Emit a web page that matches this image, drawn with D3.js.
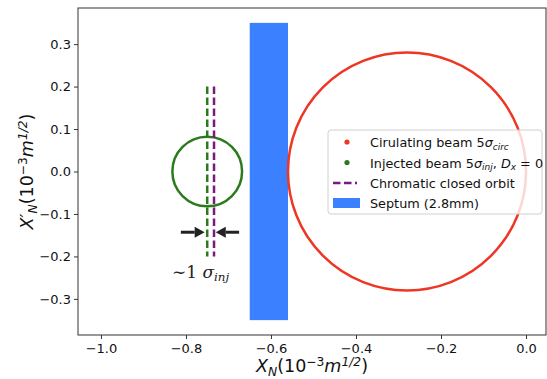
<!DOCTYPE html>
<html>
<head>
<meta charset="utf-8">
<script src="https://cdn.jsdelivr.net/npm/d3@7"></script>
<style>
  body { margin: 0; background: #fff; }
  svg { display: block; font-family: "DejaVu Sans", sans-serif; }
</style>
</head>
<body>
<div id="chart"></div>
<script>
// ---- data ----
var xTicks = [-1.0, -0.8, -0.6, -0.4, -0.2, 0.0];
var yTicks = [-0.3, -0.2, -0.1, 0.0, 0.1, 0.2, 0.3];
var beamNames = ["circ", "inj"];
var beamCx = [-0.28, -0.75];
var beamCy = [0, 0];
var beamR = [0.28, 0.082];
var beamColors = ["#ee3624", "#2b7a1c"];
var orbitX = [-0.75, -0.734];          // injected axis, chromatic closed orbit
var orbitColors = ["#2b7a1c", "#7b1a7e"];
var orbitY = [-0.2, 0.2];
var septumX = [-0.65, -0.56];
var septumY = [-0.35, 0.35];
var arrowY = -0.143;
var arrowFrom = [-0.812, -0.675];
var arrowTo = [-0.756, -0.730];
var annotX = -0.833, annotY = -0.25;

var W = 547, H = 379;
var pLeft = 78, pRight = 546, pTop = 8, pBottom = 335;

var svg = d3.select("#chart").append("svg")
    .attr("width", W).attr("height", H);

var x = d3.scaleLinear().domain([-1.054, 0.047]).range([pLeft, pRight]);
var y = d3.scaleLinear().domain([-0.385, 0.385]).range([pBottom, pTop]);

// rich text helper: segments of [text, kind]
function rich(sel, segs, size) {
  var cur = 0;
  segs.forEach(function(s) {
    var kind = s[1] || "n";
    var target = 0;
    if (kind == "sub" || kind == "subi") target = size * 0.22;
    if (kind == "sup" || kind == "supi") target = -size * 0.36;
    var isSmall = target != 0;
    var t = sel.append("tspan")
        .attr("dy", target - cur)
        .attr("font-size", isSmall ? size * 0.7 : size)
        .text(s[0]);
    if (kind == "i" || kind == "subi" || kind == "supi") t.attr("font-style", "italic");
    cur = target;
  });
}

// septum
svg.append("rect")
    .attr("x", x(septumX[0]))
    .attr("y", y(septumY[1]))
    .attr("width", x(septumX[1]) - x(septumX[0]))
    .attr("height", y(septumY[0]) - y(septumY[1]))
    .attr("fill", "#3a80ff");

// beam ellipses
beamNames.forEach(function(b, i) {
  svg.append("ellipse")
      .attr("cx", x(beamCx[i]))
      .attr("cy", y(beamCy[i]))
      .attr("rx", x(beamR[i]) - x(0))
      .attr("ry", y(0) - y(beamR[i]))
      .attr("fill", "none")
      .attr("stroke", beamColors[i])
      .attr("stroke-width", 2.5);
});

// dashed orbit lines
orbitX.forEach(function(v, i) {
  svg.append("line")
      .attr("x1", x(v)).attr("x2", x(v))
      .attr("y1", y(orbitY[1])).attr("y2", y(orbitY[0]))
      .attr("stroke", orbitColors[i])
      .attr("stroke-width", 2.5)
      .attr("stroke-dasharray", "7.5,3.5");
});

// arrows
arrowFrom.forEach(function(f, i) {
  var x0 = x(f), x1 = x(arrowTo[i]), yy = y(arrowY);
  var dir = x1 > x0 ? 1 : -1;
  var hl = 10, hw = 5.5;
  svg.append("line")
      .attr("x1", x0).attr("x2", x1 - dir * hl)
      .attr("y1", yy).attr("y2", yy)
      .attr("stroke", "#222").attr("stroke-width", 3);
  svg.append("path")
      .attr("d", "M" + x1 + "," + yy + "L" + (x1 - dir * hl) + "," + (yy - hw) +
                 "L" + (x1 - dir * hl) + "," + (yy + hw) + "Z")
      .attr("fill", "#222");
});

var annot = svg.append("text")
    .attr("x", x(annotX)).attr("y", y(annotY))
    .attr("font-family", "DejaVu Serif, serif")
    .attr("fill", "#222");
rich(annot, [["\u223c1 ", "n"], ["\u03c3", "i"], ["inj", "subi"]], 17);

// axes
var xAxis = svg.append("g")
    .attr("transform", "translate(0," + pBottom + ")")
    .call(d3.axisBottom(x).tickValues(xTicks).tickFormat(d3.format(".1f")).tickSizeOuter(0).tickSize(4));
var yAxis = svg.append("g")
    .attr("transform", "translate(" + pLeft + ",0)")
    .call(d3.axisLeft(y).tickValues(yTicks).tickFormat(d3.format(".1f")).tickSizeOuter(0).tickSize(4));
[xAxis, yAxis].forEach(function(a) {
  a.select(".domain").remove();
  a.selectAll("text").attr("font-size", 13).attr("fill", "#111")
      .attr("font-family", "DejaVu Sans, sans-serif");
  a.selectAll("line").attr("stroke", "#333");
});
xAxis.selectAll("text").attr("dy", "0.85em");

svg.append("rect")
    .attr("x", pLeft).attr("y", pTop)
    .attr("width", pRight - pLeft).attr("height", pBottom - pTop)
    .attr("fill", "none").attr("stroke", "#333").attr("stroke-width", 1);

// axis labels
var xl = svg.append("text")
    .attr("x", (pLeft + pRight) / 2).attr("y", 372)
    .attr("text-anchor", "middle").attr("fill", "#111");
rich(xl, [["X", "i"], ["N", "subi"], ["(10", "n"], ["\u22123", "sup"], ["m", "i"], ["1/2", "supi"], [")", "n"]], 17.5);

var yl = svg.append("text")
    .attr("transform", "translate(33," + ((pTop + pBottom) / 2) + ") rotate(-90)")
    .attr("text-anchor", "middle").attr("fill", "#111");
rich(yl, [["X\u2032", "i"], ["N", "subi"], ["(10", "n"], ["\u22123", "sup"], ["m", "i"], ["1/2", "supi"], [")", "n"]], 17.5);

// legend
var lg = svg.append("g").attr("transform", "translate(328,130)");
lg.append("rect")
    .attr("width", 214).attr("height", 84).attr("rx", 3)
    .attr("fill", "#fff").attr("fill-opacity", 0.8)
    .attr("stroke", "#d0d0d0");
var rowY = [12, 32.5, 53, 73];
var labels = [
  [["Cirulating beam 5", "n"], ["\u03c3", "i"], ["circ", "subi"]],
  [["Injected beam 5", "n"], ["\u03c3", "i"], ["inj", "subi"], [", ", "n"], ["D", "i"], ["x", "subi"], [" = 0", "n"]],
  [["Chromatic closed orbit", "n"]],
  [["Septum (2.8mm)", "n"]]
];
lg.append("circle").attr("cx", 19).attr("cy", rowY[0]).attr("r", 2.6).attr("fill", beamColors[0]);
lg.append("circle").attr("cx", 19).attr("cy", rowY[1]).attr("r", 2.6).attr("fill", beamColors[1]);
lg.append("line").attr("x1", 5).attr("x2", 29).attr("y1", rowY[2]).attr("y2", rowY[2])
    .attr("stroke", orbitColors[1]).attr("stroke-width", 2.5).attr("stroke-dasharray", "7.5,3.5");
lg.append("rect").attr("x", 5).attr("y", rowY[3] - 5).attr("width", 27).attr("height", 10)
    .attr("fill", "#3a80ff");
labels.forEach(function(segs, i) {
  var t = lg.append("text").attr("x", 42).attr("y", rowY[i] + 5).attr("fill", "#111");
  rich(t, segs, 12.8);
});
</script>
</body>
</html>
